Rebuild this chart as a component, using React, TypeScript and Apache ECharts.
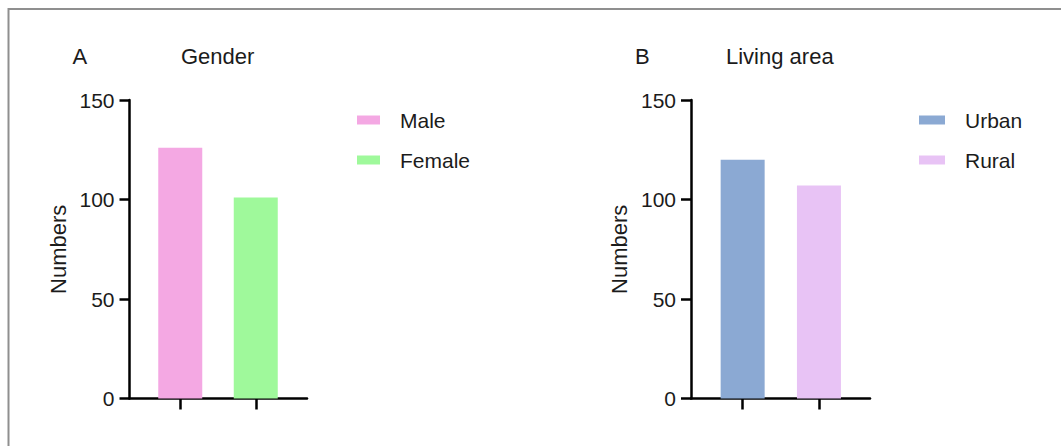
import React, { useEffect, useRef } from "react";
import * as echarts from "echarts";

// ---- data ----
const genderCategories = ["Male", "Female"];
const genderValues = [126, 101];
const genderColors = ["#F4A8E3", "#9FF99B"];

const areaCategories = ["Urban", "Rural"];
const areaValues = [120, 107];
const areaColors = ["#8BA9D3", "#E8C3F5"];

const yMin = 0;
const yMax = 150;
const yInterval = 50;
const yAxisName = "Numbers";
const panelLetters = ["A", "B"];
const panelTitles = ["Gender", "Living area"];

const FONT = "'Liberation Sans', Arial, Helvetica, sans-serif";
const INK = "#1b1b1b";

const panels = [
  {
    categories: genderCategories,
    values: genderValues,
    colors: genderColors,
    yAxisX: 129.5,
    frameRight: 307,
    barLeft: 142.5,
    barW: 151,
    legendLeft: 357,
    iconW: 23,
    letterX: 72.5,
    titleX: 181,
  },
  {
    categories: areaCategories,
    values: areaValues,
    colors: areaColors,
    yAxisX: 691,
    frameRight: 870,
    barLeft: 704.5,
    barW: 152.6,
    legendLeft: 919,
    iconW: 26,
    letterX: 635,
    titleX: 726,
  },
];

const TOP = 100;
const PLOT_H = 298.5;

export default function App() {
  const ref = useRef<HTMLDivElement>(null);

  useEffect(() => {
    if (!ref.current) return;
    document.body.style.margin = "0";
    const chart = echarts.init(ref.current, undefined, { renderer: "svg" });

    const grid: any[] = [];
    const xAxis: any[] = [];
    const yAxis: any[] = [];
    const series: any[] = [];
    const legend: any[] = [];
    const graphic: any[] = [];

    panels.forEach((p, pi) => {
      const frameIdx = pi * 2;
      const barIdx = pi * 2 + 1;
      grid.push({
        left: p.yAxisX,
        top: TOP,
        width: p.frameRight - p.yAxisX,
        height: PLOT_H,
        containLabel: false,
      });
      grid.push({
        left: p.barLeft,
        top: TOP,
        width: p.barW,
        height: PLOT_H,
        containLabel: false,
      });

      xAxis.push({
        type: "value",
        gridIndex: frameIdx,
        min: 0,
        max: 1,
        axisLine: { show: true, lineStyle: { color: "#000", width: 2.5 } },
        axisTick: { show: false },
        axisLabel: { show: false },
        splitLine: { show: false },
      });
      xAxis.push({
        type: "category",
        gridIndex: barIdx,
        data: p.categories,
        axisLine: { show: false },
        axisTick: {
          show: true,
          alignWithLabel: true,
          length: 11,
          lineStyle: { color: "#000", width: 2.5 },
        },
        axisLabel: { show: false },
        splitLine: { show: false },
      });

      yAxis.push({
        type: "value",
        gridIndex: frameIdx,
        min: yMin,
        max: yMax,
        interval: yInterval,
        name: yAxisName,
        nameLocation: "middle",
        nameGap: 60.5,
        nameTextStyle: { fontSize: 22, color: INK, fontFamily: FONT },
        axisLine: { show: true, lineStyle: { color: "#000", width: 2.5 } },
        axisTick: {
          show: true,
          length: 10,
          lineStyle: { color: "#000", width: 2.5 },
        },
        axisLabel: {
          show: true,
          margin: 15,
          fontSize: 21,
          color: INK,
          fontFamily: FONT,
        },
        splitLine: { show: false },
      });
      yAxis.push({
        type: "value",
        gridIndex: barIdx,
        min: yMin,
        max: yMax,
        interval: yInterval,
        show: false,
      });

      p.categories.forEach((name, ci) => {
        series.push({
          type: "bar",
          name,
          xAxisIndex: barIdx,
          yAxisIndex: barIdx,
          stack: "panel" + pi,
          barWidth: 44,
          itemStyle: { color: p.colors[ci] },
          data: p.categories.map((_, k) => (k === ci ? p.values[ci] : "-")),
        });
      });

      legend.push({
        data: p.categories,
        orient: "vertical",
        left: p.legendLeft,
        top: 109.5,
        padding: 0,
        icon: "rect",
        itemWidth: p.iconW,
        itemHeight: 9,
        itemGap: 19,
        textStyle: {
          fontSize: 21,
          color: INK,
          fontFamily: FONT,
          padding: [0, 0, 0, 15],
        },
      });

      graphic.push({
        type: "text",
        style: {
          text: panelLetters[pi],
          x: p.letterX,
          y: 56,
          verticalAlign: "middle",
          fontSize: 22,
          fontFamily: FONT,
          fill: INK,
        },
      });
      graphic.push({
        type: "text",
        style: {
          text: panelTitles[pi],
          x: p.titleX,
          y: 56,
          verticalAlign: "middle",
          fontSize: 22,
          fontFamily: FONT,
          fill: INK,
        },
      });
    });

    // outer frame (top and left edges)
    graphic.push({
      type: "line",
      shape: { x1: 8, y1: 9, x2: 1061, y2: 9 },
      style: { stroke: "#8f8f8f", lineWidth: 2 },
    });
    graphic.push({
      type: "line",
      shape: { x1: 8.5, y1: 8, x2: 8.5, y2: 446 },
      style: { stroke: "#8f8f8f", lineWidth: 2 },
    });

    chart.setOption({
      animation: false,
      backgroundColor: "#ffffff",
      textStyle: { fontFamily: FONT },
      grid,
      xAxis,
      yAxis,
      series,
      legend,
      graphic,
      tooltip: { show: false },
    });

    return () => chart.dispose();
  }, []);

  return <div ref={ref} style={{ width: 1061, height: 446 }} />;
}
